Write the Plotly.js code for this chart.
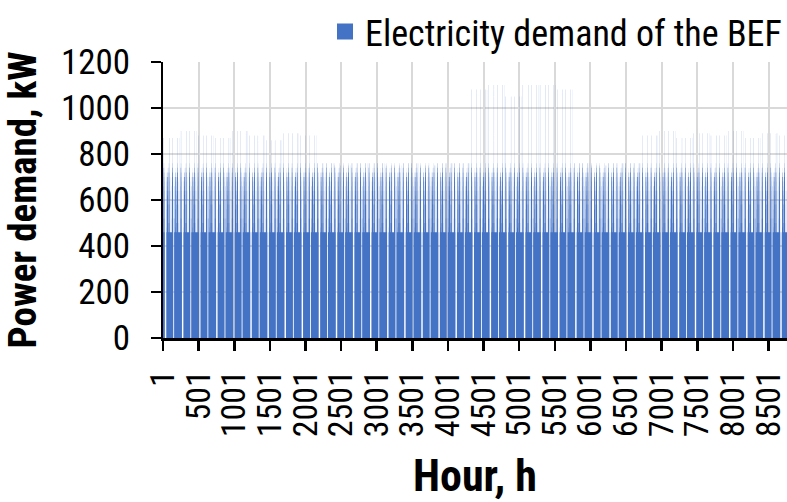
<!DOCTYPE html>
<html>
<head>
<meta charset="utf-8">
<script src="https://cdn.plot.ly/plotly-3.0.1.min.js"></script>
<style>html,body{margin:0;padding:0;background:#fff;}#chart{width:787px;height:502px;}</style>
</head>
<body>
<div id="chart"></div>
<script>
// ---- Data (kW) ----
const hoursInYear = 8760;
const seriesName = 'Electricity demand of the BEF';

// Hourly shapes of the recurring day types (null = the cycle's peak value)
const highDayA = [460,460,460,520,600,660,700,720,740,740,760,740,null,null,760,740,720,720,700,680,640,600,520,460];
const highDayB = [460,460,480,560,640,680,700,720,700,720,700,740,720,700,720,700,700,680,660,640,620,580,500,460];
const highDayC = [460,460,460,500,580,640,700,720,740,760,740,720,760,null,null,720,740,720,700,680,640,580,500,460];
const baseDay = [460,460,460,460,460,460,460,460,460,460,460,640,700,460,460,460,460,460,460,460,460,460,460,460];
const baseSpikeDay = [460,460,460,460,460,460,460,460,460,460,460,640,null,460,460,460,460,460,460,460,460,460,460,460];
const halfDay = [0,0,0,0,0,0,0,0,0,0,0,0,460,460,520,600,660,700,660,600,520,460,460,460];
const offDay = [460,460,0,0,0,0,0,0,0,0,0,0,0,0,0,0,0,0,0,0,0,0,460,460];

// The 10-day operating cycle seen in the chart
const cycleDayTypes = ['highA','off','highB','highC','base','highA','half','highB','highC','baseSpike'];

// Peak value of each 10-day cycle through the year
const cyclePeaks = [870,900,880,870,900,880,860,890,880,
                    760,750,760,760,750,760,750,760,760,
                    1080,1100,1050,1100,1100,1080,
                    760,750,760,760,
                    880,900,870,890,880,900,870,890,880];

// Axis tick labels
const xTickValues = [1,501,1001,1501,2001,2501,3001,3501,4001,4501,5001,5501,6001,6501,7001,7501,8001,8501];
const xTickLabels = ['1','501','1001','1501','2001','2501','3001','3501','4001','4501','5001','5501','6001','6501','7001','7501','8001','8501'];

// ---- Build the hourly series from the day types ----
const profiles = {highA: highDayA, highB: highDayB, highC: highDayC, base: baseDay, baseSpike: baseSpikeDay, half: halfDay, off: offDay};
const hours = [];
const demand = [];
for (let h = 0; h < hoursInYear; h++) {
  const day = Math.floor(h / 24);
  const cycle = Math.floor(day / cycleDayTypes.length);
  const type = cycleDayTypes[day % cycleDayTypes.length];
  const v = profiles[type][h % 24];
  hours.push(h + 1);
  demand.push(v === null ? cyclePeaks[cycle] : v);
}
// close the last hourly column
hours.push(hoursInYear + 1);
demand.push(demand[demand.length - 1]);

const FONT = '"Roboto Condensed", "Liberation Sans Narrow", "Arial Narrow", Roboto, sans-serif';
const BLUE = '#4472C4';

// hourly columns (no gaps) drawn as one stepped filled shape so sub-pixel columns blend like the original
const columns = {
  type: 'scatter',
  mode: 'lines',
  x: hours.map(function (v) { return v - 0.5; }),
  y: demand,
  line: {shape: 'hv', width: 0, color: BLUE},
  fill: 'tozeroy',
  fillcolor: BLUE,
  name: seriesName,
  showlegend: false,
  hoverinfo: 'skip'
};
// legend entry (bar symbol)
const legendEntry = {
  type: 'bar',
  x: [null], y: [null],
  name: seriesName,
  marker: {color: BLUE, line: {color: BLUE, width: 4}},
  showlegend: true
};

const layout = {
  width: 787, height: 502,
  margin: {l: 163, r: 0, t: 62, b: 164, pad: 0},
  paper_bgcolor: '#ffffff', plot_bgcolor: '#ffffff',
  showlegend: true,
  font: {family: FONT, color: '#000000', size: 30},
  xaxis: {
    range: [0.5, hoursInYear + 0.5],
    tickmode: 'array', tickvals: xTickValues, ticktext: xTickLabels,
    tickangle: -90,
    ticks: 'outside', ticklen: 10, tickwidth: 2.5, tickcolor: '#000000',
    showline: true, linecolor: '#000000', linewidth: 2.5,
    showgrid: true, gridcolor: '#d9d9d9', gridwidth: 2,
    zeroline: false,
    ticklabeloverflow: 'allow',
    tickfont: {family: FONT, size: 34, color: '#000000'},
    ticklabelstandoff: 6,
    title: {text: 'Hour, h', font: {family: FONT, size: 44, weight: 700, color: '#000000'}, standoff: 30}
  },
  yaxis: {
    range: [0, 1200], tickmode: 'linear', tick0: 0, dtick: 200,
    ticks: 'outside', ticklen: 10, tickwidth: 2, tickcolor: '#000000',
    showline: true, linecolor: '#000000', linewidth: 2,
    showgrid: true, gridcolor: '#d9d9d9', gridwidth: 2,
    zeroline: false,
    tickfont: {family: FONT, size: 35, color: '#000000'},
    ticklabelstandoff: 14,
    title: {text: 'Power demand, kW', font: {family: FONT, size: 39, weight: 700, color: '#000000'}, standoff: 12}
  },
  legend: {
    orientation: 'h', x: 1, xanchor: 'right', y: 1.11, yanchor: 'middle',
    font: {family: FONT, size: 36, color: '#000000'},
    bgcolor: 'rgba(0,0,0,0)'
  }
};

Plotly.newPlot('chart', [columns, legendEntry], layout, {displayModeBar: false, staticPlot: true});
</script>
</body>
</html>
